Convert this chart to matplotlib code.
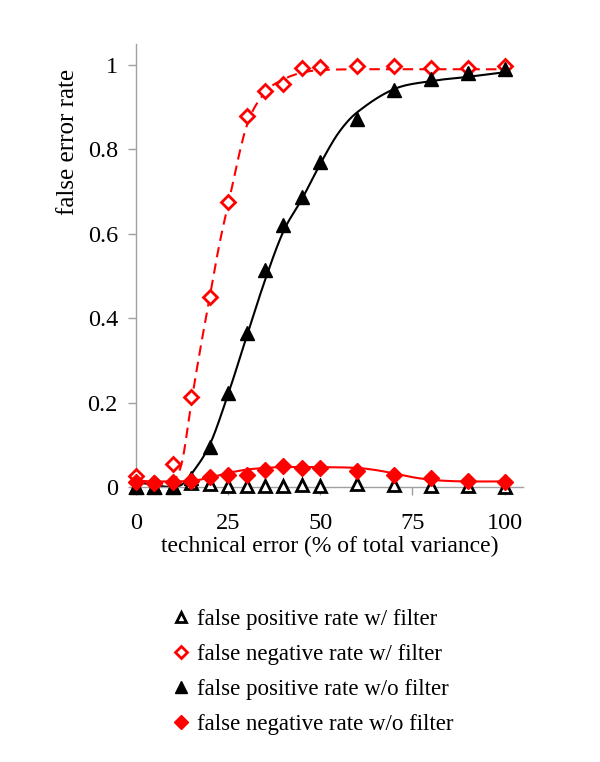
import matplotlib
matplotlib.use("Agg")
import matplotlib.pyplot as plt
import numpy as np

plt.rcParams["font.family"] = ["Liberation Serif", "DejaVu Serif"]

# technical error levels (% of total variance)
x_err = [0, 5, 10, 15, 20, 25, 30, 35, 40, 45, 50, 60, 70, 80, 90, 100]

fp_with_filter = [0.0, 0.0, 0.0, 0.009, 0.008, 0.003, 0.003, 0.003, 0.003,
                  0.004, 0.003, 0.007, 0.005, 0.003, 0.002, 0.0]
fn_with_filter = [0.025, 0.01, 0.054, 0.212, 0.45, 0.675, 0.88, 0.938, 0.956,
                  0.992, 0.996, 0.997, 0.997, 0.993, 0.993, 0.997]
fp_without_filter = [0.0, 0.0, 0.0, 0.022, 0.094, 0.222, 0.366, 0.515, 0.622,
                     0.687, 0.77, 0.873, 0.942, 0.968, 0.982, 0.99]
fn_without_filter = [0.012, 0.01, 0.012, 0.015, 0.024, 0.029, 0.028, 0.041, 0.049,
                     0.046, 0.044, 0.037, 0.029, 0.021, 0.015, 0.012]

# trend curves at knot positions
curve_fn_with_x = [0, 5, 10, 12.5, 15, 17.5, 20, 22.5, 25, 30, 35, 40, 45, 50, 60, 70, 80, 90, 100]
curve_fn_with_y = [0.015, 0.012, 0.014, 0.06, 0.2, 0.33, 0.45, 0.57, 0.67, 0.855, 0.935,
                   0.966, 0.982, 0.988, 0.99, 0.99, 0.99, 0.99, 0.99]
curve_fp_without_x = [0, 5, 10, 12.5, 15, 20, 25, 30, 35, 40, 45, 50, 55, 60, 70, 80, 90, 100]
curve_fp_without_y = [0.012, 0.004, 0.0, 0.006, 0.03, 0.1, 0.22, 0.356, 0.49, 0.606, 0.682,
                      0.766, 0.84, 0.888, 0.943, 0.962, 0.972, 0.983]
curve_fn_without_x = [0, 5, 10, 15, 20, 25, 30, 35, 40, 50, 60, 65, 70, 75, 80, 85, 90, 100]
curve_fn_without_y = [0.014, 0.013, 0.013, 0.014, 0.022, 0.033, 0.041, 0.045, 0.047, 0.047,
                      0.045, 0.04, 0.032, 0.023, 0.017, 0.014, 0.013, 0.013]


def smooth(xk, yk, n=20):
    """Cubic Hermite through knots with Catmull-Rom style tangents."""
    xk = np.asarray(xk, float)
    yk = np.asarray(yk, float)
    m = np.empty_like(yk)
    m[1:-1] = (yk[2:] - yk[:-2]) / (xk[2:] - xk[:-2])
    m[0] = (yk[1] - yk[0]) / (xk[1] - xk[0])
    m[-1] = (yk[-1] - yk[-2]) / (xk[-1] - xk[-2])
    xs, ys = [], []
    for i in range(len(xk) - 1):
        h = xk[i + 1] - xk[i]
        t = np.linspace(0, 1, n, endpoint=False)
        h00 = 2 * t**3 - 3 * t**2 + 1
        h10 = t**3 - 2 * t**2 + t
        h01 = -2 * t**3 + 3 * t**2
        h11 = t**3 - t**2
        xs.append(xk[i] + t * h)
        ys.append(h00 * yk[i] + h10 * h * m[i] + h01 * yk[i + 1] + h11 * h * m[i + 1])
    xs.append([xk[-1]])
    ys.append([yk[-1]])
    return np.concatenate(xs), np.concatenate(ys)


fig = plt.figure(figsize=(6, 7.62), dpi=100)
ax = fig.add_axes([0.2267, 0.361, 0.645, 0.5813])

red = "#ff0000"
cx, cy = smooth(curve_fn_with_x, curve_fn_with_y)
ax.plot(cx, cy, color=red, lw=1.5, ls=(0, (5, 3)), zorder=2)
cx, cy = smooth(curve_fp_without_x, curve_fp_without_y)
ax.plot(cx, cy, color="black", lw=1.5, zorder=2)
cx, cy = smooth(curve_fn_without_x, curve_fn_without_y)
ax.plot(cx, cy, color=red, lw=1.5, zorder=2)

h1, = ax.plot(x_err, fp_with_filter, ls="none", marker="^", ms=9, mfc="white",
              mec="black", mew=2, clip_on=False, zorder=3,
              label="false positive rate w/ filter")
h2, = ax.plot(x_err, fn_with_filter, ls="none", marker="D", ms=7.5, mfc="white",
              mec=red, mew=2, clip_on=False, zorder=3,
              label="false negative rate w/ filter")
h3, = ax.plot(x_err, fp_without_filter, ls="none", marker="^", ms=10, mfc="black",
              mec="black", clip_on=False, zorder=4,
              label="false positive rate w/o filter")
h4, = ax.plot(x_err, fn_without_filter, ls="none", marker="D", ms=8, mfc=red,
              mec=red, clip_on=False, zorder=4,
              label="false negative rate w/o filter")

ax.set_xlim(0, 105)
ax.set_ylim(0, 1.05)
ax.set_xticks([0, 25, 50, 75, 100])
ax.set_yticks([0, 0.2, 0.4, 0.6, 0.8, 1.0])
ax.set_yticklabels(["0", "0.2", "0.4", "0.6", "0.8", "1"])
for side in ["top", "right"]:
    ax.spines[side].set_visible(False)
for side in ["left", "bottom"]:
    ax.spines[side].set_color("#a0a0a0")
    ax.spines[side].set_linewidth(1.0)
ax.tick_params(axis="both", colors="#a0a0a0", labelcolor="black", labelsize=17.5,
               length=6, width=1.0)
ax.tick_params(axis="y", pad=7)
ax.tick_params(axis="x", pad=13)
ax.set_xlabel("technical error (% of total variance)", fontsize=17, labelpad=1)
fig.text(68 / 600, 1 - 142 / 762, "false error rate", rotation=90,
         ha="center", va="center", fontsize=18)

leg = fig.legend(handles=[h1, h2, h3, h4], loc="upper left",
                 bbox_to_anchor=(163 / 600, 1 - 600 / 762), frameon=False,
                 fontsize=16.5, handlelength=0.8, handletextpad=0.3,
                 labelspacing=0.6, borderaxespad=0, markerscale=0.85)

fig.savefig("out.png", dpi=100)
